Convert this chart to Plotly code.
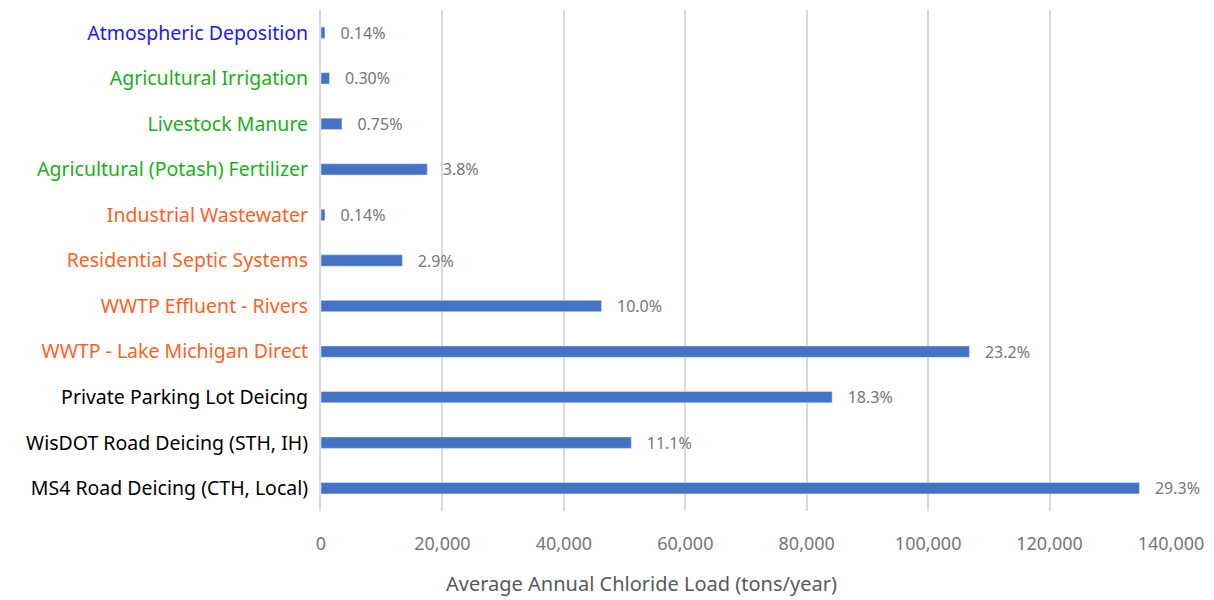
import plotly.graph_objects as go

categories = [
    "MS4 Road Deicing (CTH, Local)",
    "WisDOT Road Deicing (STH, IH)",
    "Private Parking Lot Deicing",
    "WWTP - Lake Michigan Direct",
    "WWTP Effluent - Rivers",
    "Residential Septic Systems",
    "Industrial Wastewater",
    "Agricultural (Potash) Fertilizer",
    "Livestock Manure",
    "Agricultural Irrigation",
    "Atmospheric Deposition",
]
loads = [134800, 51100, 84200, 106800, 46200, 13400, 650, 17500, 3450, 1400, 650]
pct_labels = ["29.3%", "11.1%", "18.3%", "23.2%", "10.0%", "2.9%", "0.14%", "3.8%", "0.75%", "0.30%", "0.14%"]
label_colors = ["#000000", "#000000", "#000000",
                "#FF5F1F", "#FF5F1F", "#FF5F1F", "#FF5F1F",
                "#19B019", "#19B019", "#19B019",
                "#1A1AF5"]
x_ticks = [0, 20000, 40000, 60000, 80000, 100000, 120000, 140000]

ticktext = [f'<span style="color:{c}">{t}</span>' for t, c in zip(categories, label_colors)]

fig = go.Figure(go.Bar(
    y=list(range(len(categories))),
    x=loads,
    orientation="h",
    width=0.25,
    marker=dict(color="#4472C4"),
    text=["   " + p for p in pct_labels],
    textposition="outside",
    constraintext="none",
    cliponaxis=False,
    textfont=dict(color="#767676", size=16, family="Noto Sans"),
))

fig.update_layout(
    width=1214, height=600,
    margin=dict(l=321, r=41, t=10, b=89),
    plot_bgcolor="white", paper_bgcolor="white",
    font=dict(family="Noto Sans"),
    showlegend=False,
    xaxis=dict(
        range=[0, 140000],
        tickvals=x_ticks,
        ticktext=[f"{v:,}" for v in x_ticks],
        showgrid=True, gridcolor="#D9D9D9", gridwidth=2,
        zeroline=False,
        tickfont=dict(size=18, color="#767676"),
        ticks="", ticklen=0,
        ticklabelstandoff=20,
    ),
    yaxis=dict(
        range=[-0.5, len(categories) - 0.5],
        tickvals=list(range(len(categories))),
        ticktext=ticktext,
        tickfont=dict(size=19.5, color="#000000"),
        showgrid=False, zeroline=False,
        showline=True, linecolor="#D9D9D9", linewidth=2,
        ticks="", ticklen=0,
        ticklabelstandoff=7,
    ),
    annotations=[dict(
        text="Average Annual Chloride Load (tons/year)",
        xref="paper", yref="paper",
        x=(642 - 321) / (1173 - 321), y=-(583 - 511) / 500,
        xanchor="center", yanchor="middle",
        showarrow=False,
        font=dict(size=20, color="#595959"),
    )],
)

fig.write_html("out.html")
